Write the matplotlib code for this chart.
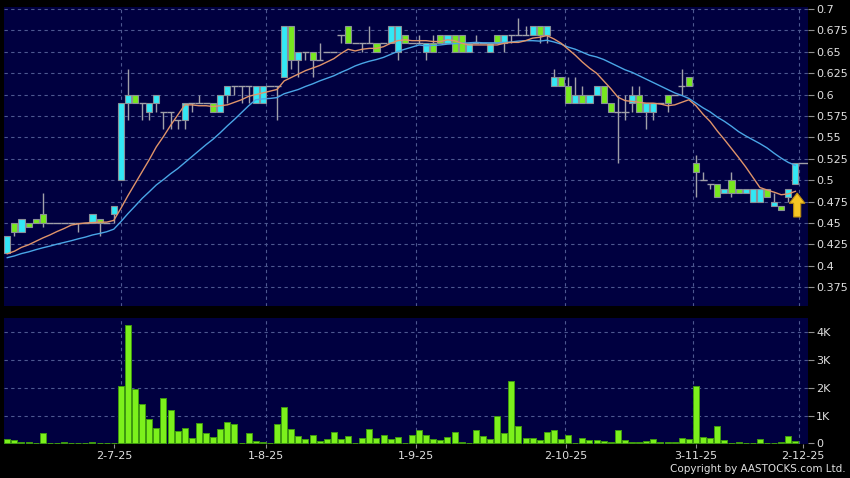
import matplotlib
matplotlib.use("Agg")
import matplotlib.pyplot as plt
import numpy as np
import pandas as pd
from matplotlib.patches import Rectangle, FancyArrow

# daily candles, index 0 = first bar shown
opens = [0.415, 0.45, 0.44, 0.45, 0.455, 0.46, 0.45, 0.45, 0.45, 0.45,
         0.45, 0.45, 0.45, 0.455, 0.45, 0.46, 0.50, 0.59, 0.60, 0.59,
         0.58, 0.59, 0.58, 0.58, 0.57, 0.57, 0.59, 0.59, 0.59, 0.59,
         0.58, 0.60, 0.61, 0.61, 0.61, 0.59, 0.59, 0.61, 0.61, 0.62,
         0.68, 0.64, 0.65, 0.65, 0.64, 0.65, 0.65, 0.67, 0.68, 0.66,
         0.66, 0.66, 0.66, 0.66, 0.66, 0.65, 0.67, 0.66, 0.66, 0.65,
         0.66, 0.67, 0.66, 0.67, 0.67, 0.65, 0.66, 0.66, 0.65, 0.67,
         0.66, 0.67, 0.67, 0.67, 0.67, 0.68, 0.67, 0.61, 0.62, 0.61,
         0.59, 0.60, 0.59, 0.60, 0.61, 0.59, 0.58, 0.58, 0.59, 0.60,
         0.58, 0.58, 0.59, 0.60, 0.60, 0.61, 0.62, 0.52, 0.50, 0.495,
         0.495, 0.485, 0.50, 0.49, 0.485, 0.475, 0.475, 0.49, 0.47, 0.47,
         0.48, 0.495]
highs = [0.435, 0.45, 0.455, 0.45, 0.455, 0.485, 0.45, 0.45, 0.45, 0.45,
         0.45, 0.45, 0.46, 0.455, 0.45, 0.47, 0.59, 0.63, 0.60, 0.59,
         0.59, 0.60, 0.58, 0.58, 0.57, 0.59, 0.59, 0.60, 0.59, 0.59,
         0.60, 0.61, 0.61, 0.61, 0.61, 0.61, 0.61, 0.61, 0.61, 0.68,
         0.68, 0.65, 0.65, 0.65, 0.66, 0.65, 0.65, 0.67, 0.68, 0.66,
         0.66, 0.68, 0.66, 0.66, 0.68, 0.68, 0.67, 0.66, 0.67, 0.66,
         0.67, 0.67, 0.67, 0.67, 0.67, 0.66, 0.67, 0.66, 0.66, 0.67,
         0.67, 0.67, 0.69, 0.68, 0.68, 0.68, 0.68, 0.63, 0.62, 0.62,
         0.62, 0.61, 0.60, 0.61, 0.61, 0.59, 0.60, 0.60, 0.61, 0.61,
         0.59, 0.59, 0.59, 0.60, 0.60, 0.63, 0.62, 0.53, 0.51, 0.495,
         0.495, 0.49, 0.51, 0.49, 0.49, 0.49, 0.49, 0.49, 0.485, 0.47,
         0.49, 0.52]
lows = [0.415, 0.435, 0.44, 0.445, 0.45, 0.445, 0.45, 0.45, 0.45, 0.45,
        0.44, 0.45, 0.45, 0.435, 0.45, 0.45, 0.50, 0.57, 0.59, 0.57,
        0.57, 0.58, 0.56, 0.56, 0.56, 0.56, 0.58, 0.59, 0.59, 0.58,
        0.58, 0.59, 0.60, 0.59, 0.59, 0.59, 0.59, 0.61, 0.57, 0.62,
        0.63, 0.62, 0.64, 0.62, 0.64, 0.65, 0.65, 0.66, 0.66, 0.66,
        0.65, 0.66, 0.65, 0.66, 0.66, 0.64, 0.66, 0.66, 0.66, 0.64,
        0.65, 0.66, 0.66, 0.65, 0.65, 0.65, 0.66, 0.66, 0.65, 0.66,
        0.65, 0.66, 0.67, 0.67, 0.67, 0.66, 0.66, 0.61, 0.61, 0.59,
        0.59, 0.59, 0.59, 0.60, 0.59, 0.58, 0.52, 0.57, 0.58, 0.58,
        0.56, 0.57, 0.59, 0.58, 0.60, 0.60, 0.61, 0.48, 0.50, 0.49,
        0.48, 0.485, 0.48, 0.485, 0.485, 0.475, 0.475, 0.48, 0.47, 0.465,
        0.475, 0.495]
closes = [0.435, 0.44, 0.455, 0.445, 0.45, 0.45, 0.45, 0.45, 0.45, 0.45,
          0.45, 0.45, 0.46, 0.45, 0.45, 0.47, 0.59, 0.60, 0.59, 0.59,
          0.59, 0.60, 0.58, 0.58, 0.57, 0.59, 0.59, 0.59, 0.59, 0.58,
          0.60, 0.61, 0.61, 0.61, 0.61, 0.61, 0.61, 0.61, 0.61, 0.68,
          0.64, 0.65, 0.65, 0.64, 0.64, 0.65, 0.65, 0.67, 0.66, 0.66,
          0.66, 0.66, 0.65, 0.66, 0.68, 0.68, 0.66, 0.66, 0.66, 0.66,
          0.65, 0.66, 0.67, 0.65, 0.65, 0.66, 0.66, 0.66, 0.66, 0.66,
          0.67, 0.67, 0.67, 0.67, 0.68, 0.67, 0.68, 0.62, 0.61, 0.59,
          0.60, 0.59, 0.60, 0.61, 0.59, 0.58, 0.58, 0.58, 0.60, 0.58,
          0.59, 0.59, 0.59, 0.59, 0.60, 0.61, 0.61, 0.51, 0.50, 0.495,
          0.48, 0.49, 0.485, 0.485, 0.49, 0.49, 0.49, 0.48, 0.475, 0.465,
          0.49, 0.52]
# volume in thousands of shares
vol_k = [0.14, 0.12, 0.05, 0.05, 0.01, 0.36, 0.0, 0.01, 0.04, 0.0,
         0.0, 0.0, 0.05, 0.02, 0.02, 0.02, 2.06, 4.26, 1.96, 1.40,
         0.86, 0.55, 1.63, 1.19, 0.46, 0.56, 0.20, 0.74, 0.38, 0.24,
         0.50, 0.77, 0.70, 0.0, 0.37, 0.07, 0.06, 0.0, 0.68, 1.32,
         0.53, 0.26, 0.16, 0.29, 0.10, 0.17, 0.42, 0.17, 0.25, 0.0,
         0.20, 0.50, 0.20, 0.30, 0.16, 0.24, 0.02, 0.31, 0.48, 0.29,
         0.14, 0.12, 0.23, 0.39, 0.04, 0.0, 0.47, 0.25, 0.14, 0.99,
         0.37, 2.23, 0.64, 0.19, 0.19, 0.11, 0.40, 0.49, 0.16, 0.29,
         0.02, 0.19, 0.12, 0.11, 0.10, 0.05, 0.48, 0.11, 0.05, 0.05,
         0.07, 0.14, 0.04, 0.04, 0.05, 0.18, 0.14, 2.06, 0.24, 0.18,
         0.61, 0.12, 0.02, 0.05, 0.01, 0.01, 0.16, 0.01, 0.01, 0.06,
         0.25, 0.10]
# closes before the first bar, only used to seed the moving averages
prior_closes = [0.40, 0.40, 0.405, 0.40, 0.405, 0.41, 0.405, 0.41, 0.41, 0.405,
                0.41, 0.41, 0.415, 0.41, 0.41, 0.415, 0.41, 0.415, 0.41]

month_labels = ["2-7-25", "1-8-25", "1-9-25", "2-10-25", "3-11-25", "2-12-25"]
month_ticks = [15.1, 36.4, 57.6, 78.7, 97.0, 112.1]
month_grid = [16.0, 36.5, 57.6, 78.6, 96.6, 111.5]
price_ticks = [0.375, 0.4, 0.425, 0.45, 0.475, 0.5, 0.525, 0.55, 0.575,
               0.6, 0.625, 0.65, 0.675, 0.7]
vol_ticks = [0, 1, 2, 3, 4]

NAVY = "#000040"
UP = "#33e8f5"
DOWN = "#77e81e"
WICK = "#a0a0a8"
GRID = "#4d5890"
TXT = "#e0e0e0"

n = len(closes)
x = np.arange(n)
allc = pd.Series(prior_closes + closes)
ma10 = allc.rolling(10).mean().values[-n:]
ma20 = allc.rolling(20).mean().values[-n:]

fig = plt.figure(figsize=(8.5, 4.78), dpi=100, facecolor="black")
ax = fig.add_axes([0.0047, 0.36, 0.9455, 0.626])
axv = fig.add_axes([0.0047, 0.0705, 0.9455, 0.2635])

for a in (ax, axv):
    a.set_facecolor(NAVY)
    for s in a.spines.values():
        s.set_visible(False)
    a.yaxis.tick_right()
    a.tick_params(axis="y", colors="#909090", labelcolor=TXT, labelsize=8,
                  length=4, width=0.8, pad=2)
    a.set_xlim(-0.46, 112.73)
    a.set_xticks(month_ticks)
    for xp in month_grid:
        a.axvline(xp, color=GRID, lw=0.8, ls=(0, (3, 3)), zorder=0)

# price panel
ax.set_ylim(0.3531, 0.7027)
ax.set_yticks(price_ticks)
ax.set_yticklabels([f"{t:g}" for t in price_ticks])
for t in price_ticks:
    ax.axhline(t, color=GRID, lw=0.8, ls=(0, (3, 3)), zorder=0)
ax.tick_params(axis="x", length=0, labelbottom=False)

bw = 0.86
for i in range(n):
    o, h, l, c = opens[i], highs[i], lows[i], closes[i]
    if h > l:
        ax.vlines(i, l, h, color=WICK, lw=1.0, zorder=2)
    if c == o:
        ax.hlines(o, i - 0.5, i + 0.5, color=WICK, lw=1.0, zorder=2)
    else:
        col = UP if c > o else DOWN
        ax.add_patch(Rectangle((i - bw / 2, min(o, c)), bw, abs(c - o),
                               facecolor=col, edgecolor="#8a9098", lw=0.8,
                               zorder=3))

ax.plot(x, ma20, color="#4aa6e6", lw=1.0, zorder=4)
ax.plot(x, ma10, color="#e0946a", lw=1.0, zorder=4)
ax.hlines(closes[-1], n - 1 + bw / 2, 112.73, color=WICK, lw=1.0, zorder=2)

# yellow marker arrow below the last candle
ax.add_patch(FancyArrow(n - 1 + 0.25, 0.457, 0, 0.028, width=1.0,
                        head_width=2.2, head_length=0.012,
                        length_includes_head=True, facecolor="#f7c624",
                        edgecolor="#b88a10", lw=0.8, zorder=5))

# volume panel
axv.set_ylim(-0.036, 4.5)
axv.set_yticks(vol_ticks)
axv.set_yticklabels(["0" if v == 0 else f"{v}K" for v in vol_ticks])
for v in vol_ticks[1:]:
    axv.axhline(v, color=GRID, lw=0.8, ls=(0, (3, 3)), zorder=0)
axv.bar(x, vol_k, width=0.85, color="#7cf01c", edgecolor="#3f9a10",
        lw=0.7, zorder=3)
axv.set_xticklabels(month_labels)
axv.tick_params(axis="x", colors="#909090", labelcolor=TXT, labelsize=8,
                length=3, width=0.8, pad=2)

fig.text(0.995, 0.008, "Copyright by AASTOCKS.com Ltd.", color=TXT,
         fontsize=7.5, ha="right", va="bottom")

fig.savefig("out.png", dpi=100, facecolor="black")
